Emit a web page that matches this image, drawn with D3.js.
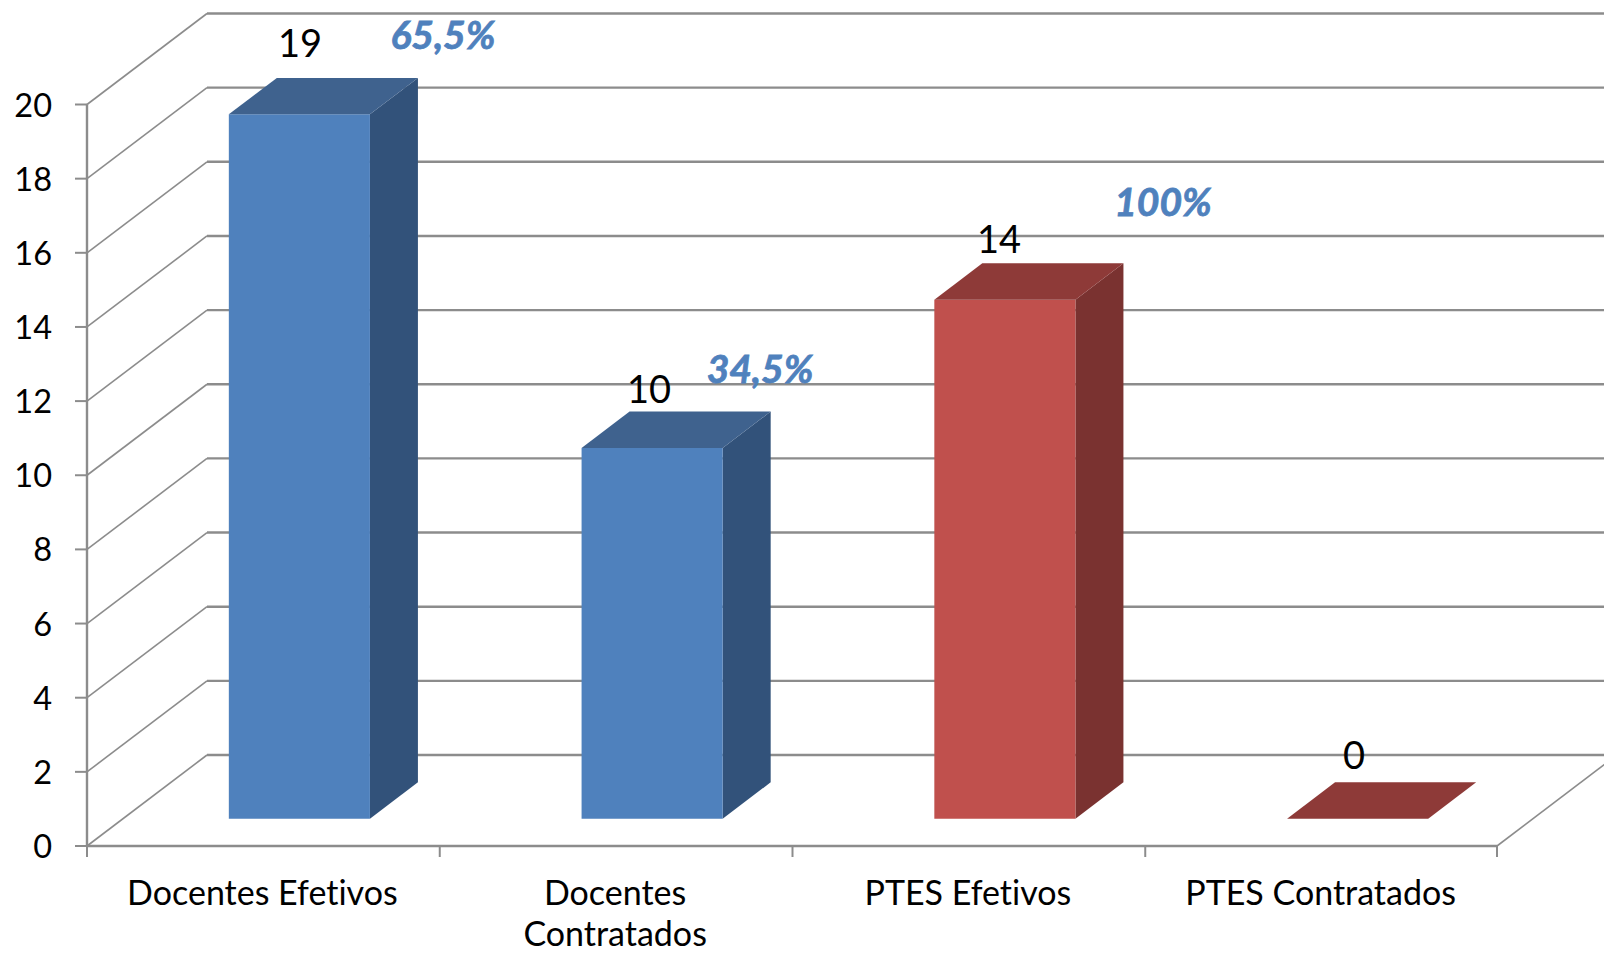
<!DOCTYPE html>
<html>
<head>
<meta charset="utf-8">
<script src="https://cdn.jsdelivr.net/npm/d3@7"></script>
<style>
html,body{margin:0;padding:0;background:#fff;overflow:hidden}
svg{display:block}
text{font-family:Lato,"Open Sans",sans-serif;font-variant-ligatures:none}
</style>
</head>
<body>
<svg id="chart" width="1604" height="953"></svg>
<script>
const categories = ["Docentes Efetivos", "Docentes Contratados", "PTES Efetivos", "PTES Contratados"];
const values = [19, 10, 14, 0];
const percentLabels = ["65,5%", "34,5%", "100%", ""];
const yTicks = [0, 2, 4, 6, 8, 10, 12, 14, 16, 18, 20];
const groups = ["blue", "blue", "red", "red"];

const palette = {
  blue: {front: "#4F81BD", side: "#32527A", top: "#3F628E"},
  red:  {front: "#C0504D", side: "#7A3230", top: "#8E3A38"}
};
const gridColor = "#8C8C8C";

const W = 1604, H = 953;
const svg = d3.select("#chart").attr("viewBox", [0, 0, W, H]);

const x = d3.scaleBand().domain(categories).range([87, 1498]).padding(0);
const y = d3.scaleLinear().domain([0, 20]).range([846, 104.5]);
const depthX = 120, depthY = 91;
const step = x.bandwidth();
const P = (catLeft, frac, v, depth) => [catLeft + frac * step + depth * depthX, y(v) - depth * depthY];
const pathOf = pts => "M" + pts.map(p => p.join(",")).join("L") + "Z";

// Walls and grid
const g = svg.append("g").attr("fill", "none").attr("stroke", gridColor);
yTicks.forEach(v => {
  g.append("line").attr("x1", 87).attr("y1", y(v)).attr("x2", 87 + depthX).attr("y2", y(v) - depthY).attr("stroke-width", 1.6);
  g.append("line").attr("x1", 87 + depthX).attr("y1", y(v) - depthY).attr("x2", W + 4).attr("y2", y(v) - depthY).attr("stroke-width", 2.4);
  g.append("line").attr("x1", 75).attr("y1", y(v)).attr("x2", 87).attr("y2", y(v)).attr("stroke-width", 2);
});
g.append("line").attr("x1", 87).attr("y1", y(20)).attr("x2", 87).attr("y2", y(0)).attr("stroke-width", 2.4);
g.append("line").attr("x1", 87).attr("y1", y(0)).attr("x2", 1497).attr("y2", y(0)).attr("stroke-width", 2.4);
g.append("line").attr("x1", 1497).attr("y1", y(0)).attr("x2", 1497 + depthX).attr("y2", y(0) - depthY).attr("stroke-width", 1.6);
[...categories.map(c => x(c)), 1497].forEach(px => {
  g.append("line").attr("x1", px).attr("y1", y(0)).attr("x2", px).attr("y2", y(0) + 11).attr("stroke-width", 2);
});

// Bars
const f0 = 0.3, f1 = 0.7, d0 = 0.3, d1 = 0.7;
categories.forEach((c, i) => {
  const v = values[i], L = x(c), col = palette[groups[i]];
  const bar = svg.append("g");
  if (v > 0) {
    bar.append("path").attr("fill", col.side).attr("d", pathOf([
      P(L, f1, 0, d0), P(L, f1, 0, d1), P(L, f1, v, d1), P(L, f1, v, d0)]));
    bar.append("path").attr("fill", col.front).attr("d", pathOf([
      P(L, f0, 0, d0), P(L, f1, 0, d0), P(L, f1, v, d0), P(L, f0, v, d0)]));
  }
  bar.append("path").attr("fill", col.top).attr("d", pathOf([
    P(L, f0, v, d0), P(L, f1, v, d0), P(L, f1, v, d1), P(L, f0, v, d1)]));
});

// Y tick labels
svg.append("g").selectAll("text").data(yTicks).join("text")
  .attr("x", 52).attr("y", d => y(d) + 12).attr("text-anchor", "end")
  .attr("font-size", 32.5).attr("fill", "#000").text(d => d);

// Category labels
const catLines = [["Docentes Efetivos"], ["Docentes", "Contratados"], ["PTES Efetivos"], ["PTES Contratados"]];
catLines.forEach((lines, i) => {
  lines.forEach((t, j) => {
    svg.append("text").attr("x", x(categories[i]) + step / 2 - 1).attr("y", 905 + j * 41)
      .attr("text-anchor", "middle").attr("font-size", 34).attr("fill", "#000").text(t);
  });
});

// Value labels
const labelAnchors = [[300, 57], [649, 403], [999, 253], [1354, 769]];
values.forEach((v, i) => {
  svg.append("text").attr("x", labelAnchors[i][0]).attr("y", labelAnchors[i][1])
    .attr("text-anchor", "middle").attr("font-size", 38).attr("fill", "#000").text(v);
});

// Percent annotations
const percentAnchors = [[443, 49], [760, 383], [1163, 216]];
percentAnchors.forEach((p, i) => {
  svg.append("text").attr("x", p[0]).attr("y", p[1]).attr("text-anchor", "middle")
    .attr("font-size", 39).attr("font-weight", 700).attr("font-style", "italic")
    .attr("stroke", "#4F81BD").attr("stroke-width", 0.8)
    .attr("fill", "#4F81BD").text(percentLabels[i]);
});
</script>
</body>
</html>
